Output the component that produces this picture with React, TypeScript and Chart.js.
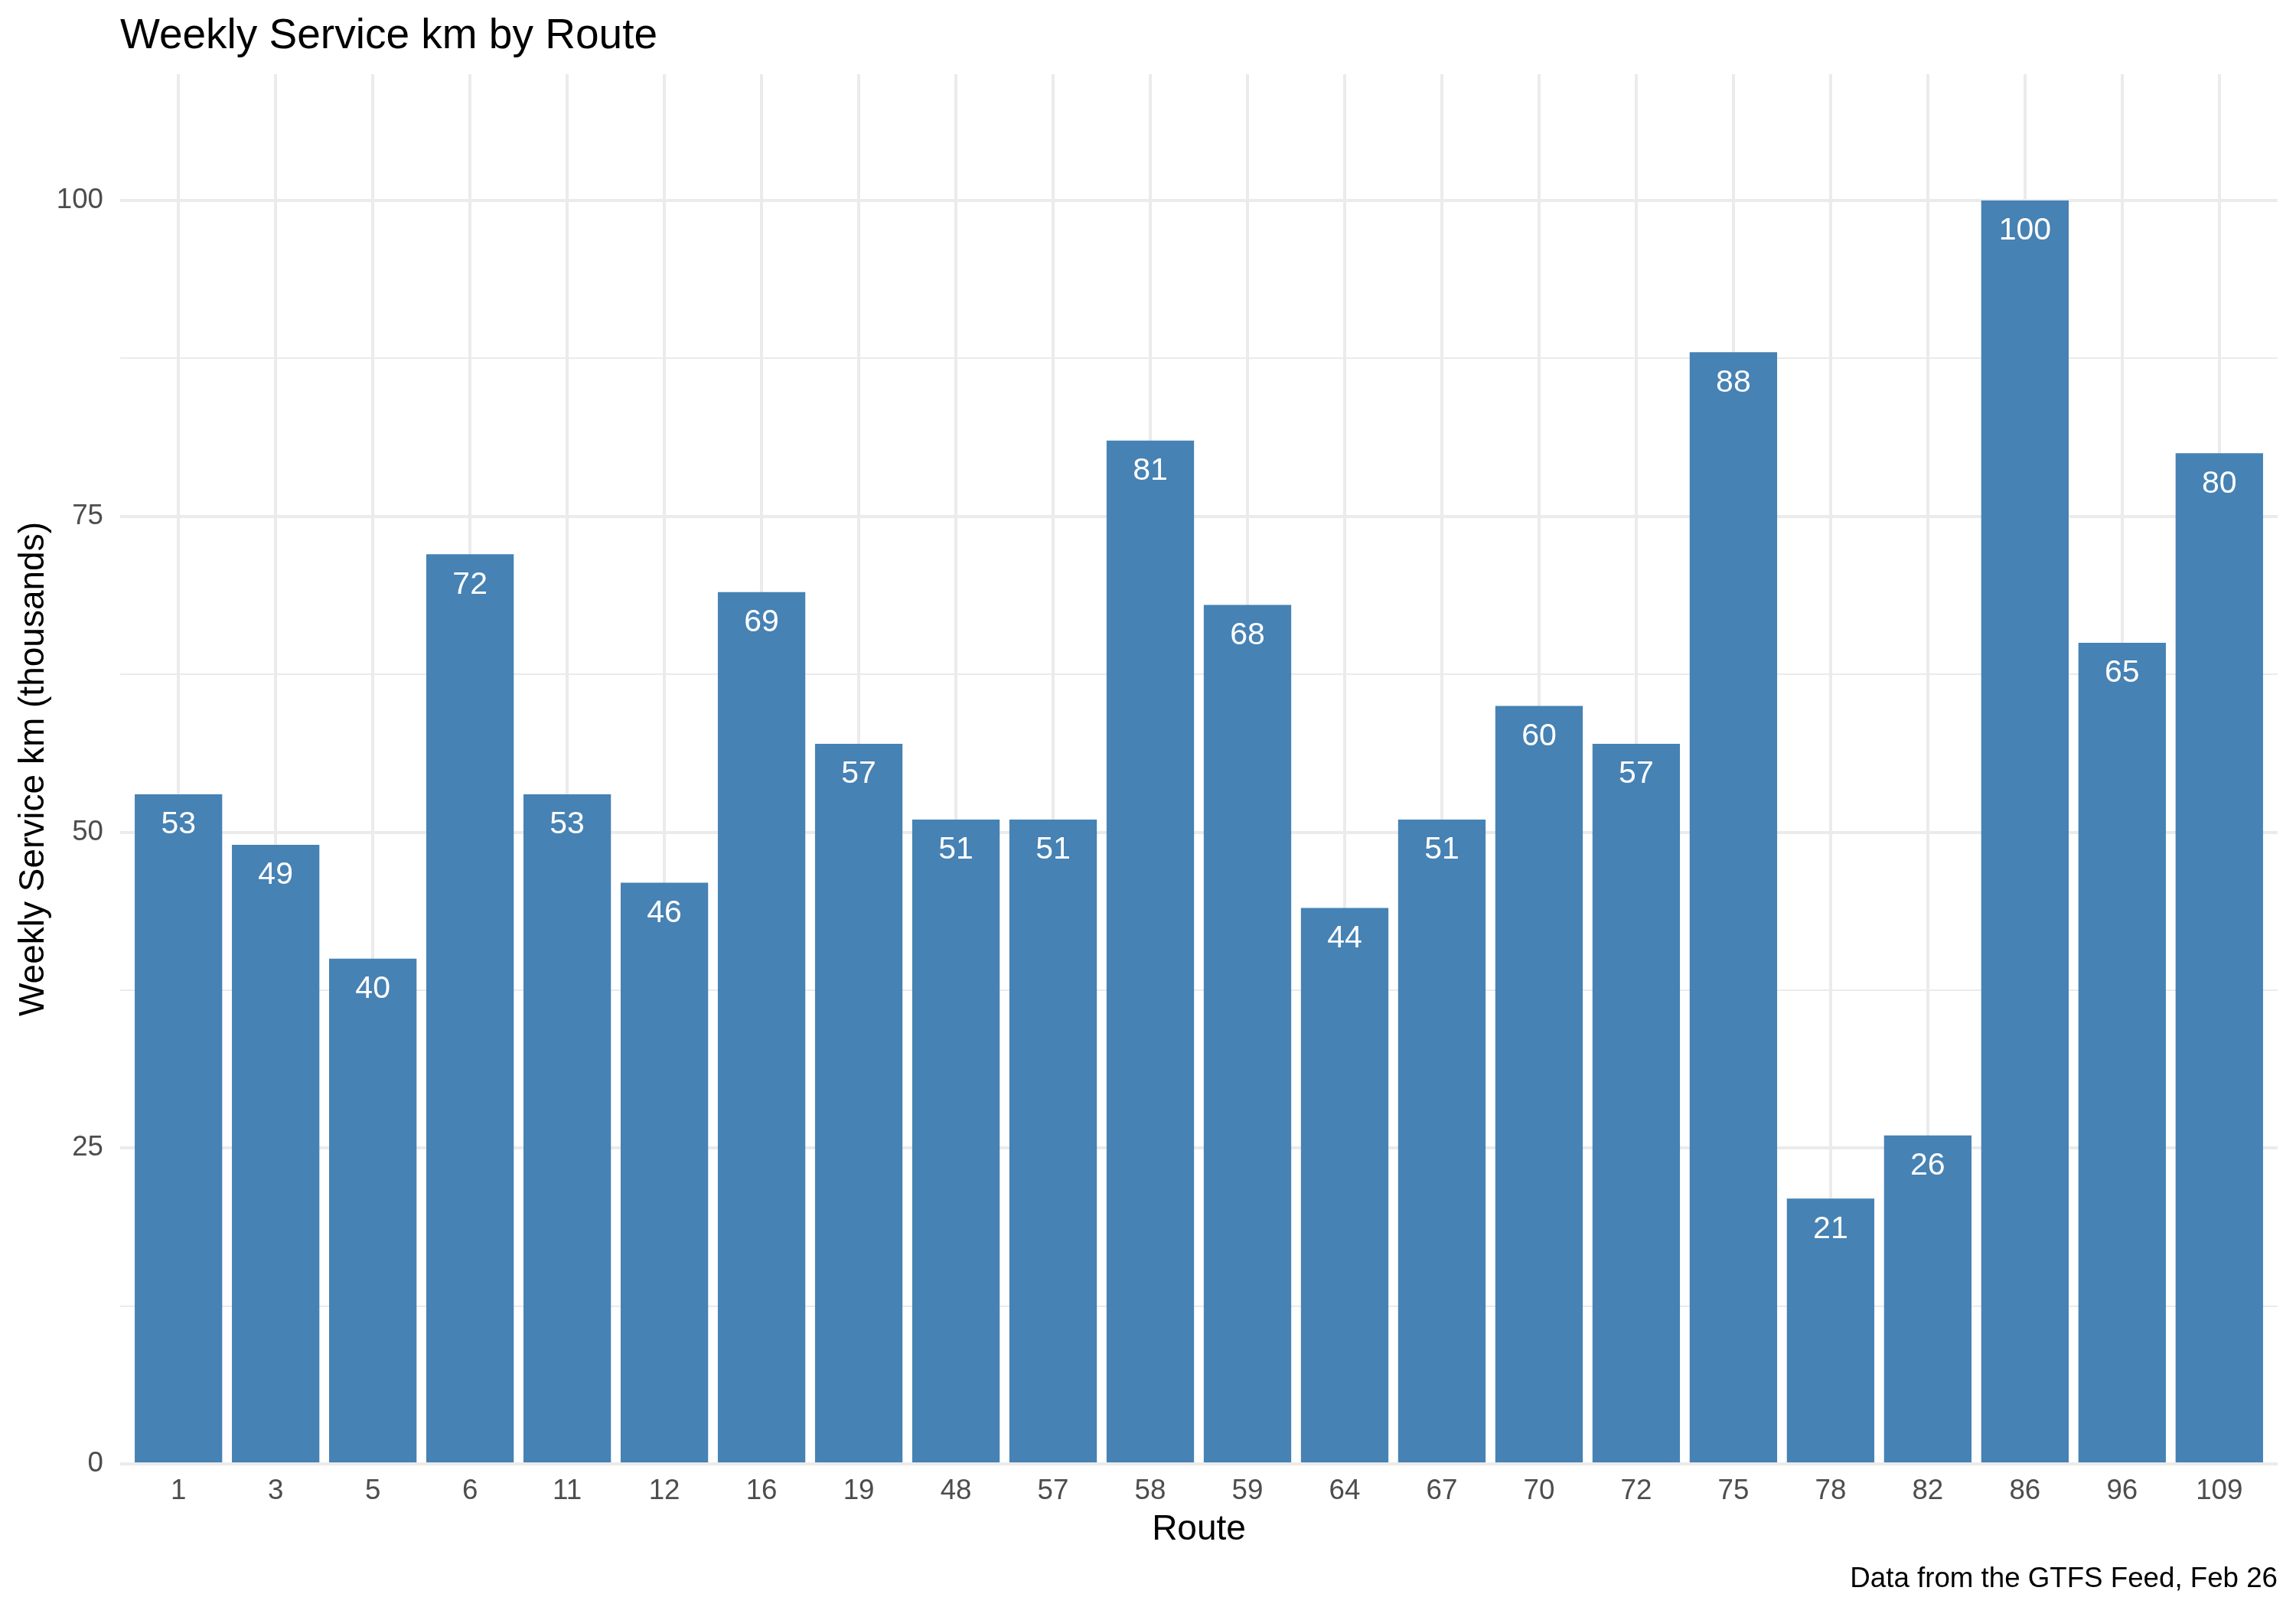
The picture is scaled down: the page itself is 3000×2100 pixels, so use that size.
import { Chart, registerables } from "chart.js";
import { useEffect, useRef } from "react";

Chart.register(...registerables);

const routes = ["1", "3", "5", "6", "11", "12", "16", "19", "48", "57", "58", "59", "64", "67", "70", "72", "75", "78", "82", "86", "96", "109"];
const serviceKm = [53, 49, 40, 72, 53, 46, 69, 57, 51, 51, 81, 68, 44, 51, 60, 57, 88, 21, 26, 100, 65, 80];
const yTicks = [0, 12.5, 25, 37.5, 50, 62.5, 75, 87.5, 100];

const FONT = '"Liberation Sans", Arial, Helvetica, sans-serif';

const textPlugin = {
  id: "ggText",
  afterDatasetsDraw(chart: any) {
    const ctx = chart.ctx;
    const meta = chart.getDatasetMeta(0);
    ctx.save();
    ctx.fillStyle = "#ffffff";
    ctx.font = `41px ${FONT}`;
    ctx.textAlign = "center";
    ctx.textBaseline = "middle";
    meta.data.forEach((bar: any, i: number) => {
      ctx.fillText(String(serviceKm[i]), bar.x, bar.y + 40);
    });
    ctx.restore();
  },
  afterDraw(chart: any) {
    const ctx = chart.ctx;
    const area = chart.chartArea;
    ctx.save();
    ctx.fillStyle = "#000000";
    ctx.textBaseline = "alphabetic";

    ctx.font = `55px ${FONT}`;
    ctx.textAlign = "left";
    ctx.fillText("Weekly Service km by Route", area.left, 63);

    ctx.font = `46px ${FONT}`;
    ctx.textAlign = "center";
    ctx.fillText("Route", (area.left + area.right) / 2, 2012);

    ctx.save();
    ctx.translate(57, (area.top + area.bottom) / 2);
    ctx.rotate(-Math.PI / 2);
    ctx.fillText("Weekly Service km (thousands)", 0, 0);
    ctx.restore();

    ctx.font = `36.7px ${FONT}`;
    ctx.textAlign = "right";
    ctx.fillText("Data from the GTFS Feed, Feb 26", area.right, 2074);
    ctx.restore();
  },
};

export default function App() {
  const canvasRef = useRef<HTMLCanvasElement | null>(null);
  const chartRef = useRef<Chart | null>(null);

  useEffect(() => {
    if (!canvasRef.current) return;
    if (chartRef.current) chartRef.current.destroy();

    chartRef.current = new Chart(canvasRef.current, {
      type: "bar",
      data: {
        datasets: [
          {
            label: "Weekly Service km",
            data: serviceKm.map((v, i) => ({ x: i, y: v })),
            backgroundColor: "#4682B4",
            borderWidth: 0,
            barPercentage: 0.9,
            categoryPercentage: 1,
          },
        ],
      },
      options: {
        animation: false,
        responsive: false,
        devicePixelRatio: 1,
        layout: { padding: { left: 0, right: 24, top: 97, bottom: 0 } },
        plugins: {
          legend: { display: false },
          tooltip: { enabled: false },
          title: { display: false },
        },
        scales: {
          x: {
            type: "linear",
            offset: false,
            bounds: "data",
            min: -0.6,
            max: routes.length - 1 + 0.6,
            afterBuildTicks: (scale: any) => {
              scale.ticks = routes.map((_, i) => ({ value: i }));
            },
            afterFit: (scale: any) => {
              scale.height = 187;
            },
            ticks: {
              autoSkip: false,
              maxRotation: 0,
              padding: 14,
              color: "#4D4D4D",
              font: { family: FONT, size: 36.7 },
              callback: (value: any) => routes[Number(value)] ?? "",
            },
            grid: { color: "#EBEBEB", lineWidth: 4, drawTicks: false, offset: false },
            border: { display: false },
          },
          y: {
            min: 0,
            max: 110,
            afterBuildTicks: (scale: any) => {
              scale.ticks = yTicks.map((v) => ({ value: v }));
            },
            afterFit: (scale: any) => {
              scale.width = 157;
            },
            ticks: {
              padding: 22,
              color: "#4D4D4D",
              font: { family: FONT, size: 36.7 },
              callback: (value: any) => (Number(value) % 25 === 0 ? String(value) : ""),
            },
            grid: {
              color: "#EBEBEB",
              drawTicks: false,
              lineWidth: (c: any) => (c.tick && c.tick.value % 25 === 0 ? 4 : 2),
            },
            border: { display: false },
          },
        },
      },
      plugins: [textPlugin],
    } as any);

    return () => {
      if (chartRef.current) {
        chartRef.current.destroy();
        chartRef.current = null;
      }
    };
  }, []);

  return (
    <div style={{ position: "absolute", left: 0, top: 0, width: 3000, height: 2100, background: "#ffffff" }}>
      <canvas ref={canvasRef} width={3000} height={2100} style={{ display: "block" }} />
    </div>
  );
}
